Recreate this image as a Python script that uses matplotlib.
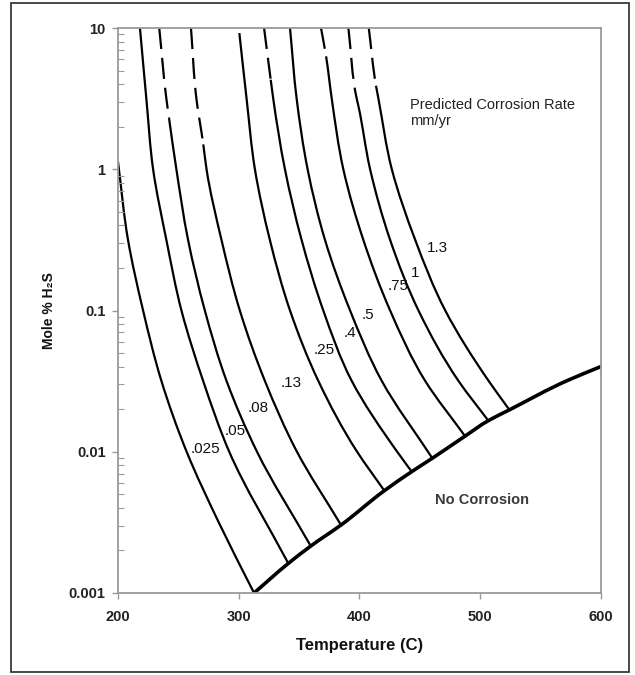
import matplotlib
matplotlib.use("Agg")
import numpy as np
import matplotlib.pyplot as plt
from matplotlib.ticker import LogLocator, NullFormatter, FixedLocator, FixedFormatter
from matplotlib.patches import Rectangle, PathPatch
from matplotlib.path import Path

plt.rcParams['font.family'] = ['Liberation Sans', 'DejaVu Sans']

# ---- data ----
rate_labels = ['.025', '.05', '.08', '.13', '.25', '.4', '.5', '.75', '1', '1.3']

t_025 = [200, 208.3, 220.8, 236.0, 256.7, 284.0, 312.8]
y_025 = [1.13, 0.316, 0.1, 0.0317, 0.0101, 0.0031, 0.001]

t_05 = [218.2, 223.5, 229.1, 240.1, 252.6, 270.6, 292.0, 341.2]
y_05 = [10, 3.16, 1, 0.316, 0.1, 0.0317, 0.0101, 0.00162]

t_08 = [234.2, 240.1, 242.3, 248.4, 258.1, 272.0, 290.0, 315.0, 359.8]
y_08 = [10, 3.16, 2.3, 1, 0.316, 0.1, 0.0317, 0.0101, 0.00215]

t_13 = [260.5, 265.0, 270.7, 273.4, 285.8, 301.0, 321.8, 348.1, 384.9]
y_13 = [10, 3.16, 1.5, 1, 0.316, 0.1, 0.0317, 0.0101, 0.00303]

t_25 = [300.6, 306.6, 313.5, 325.9, 342.6, 366.1, 397.9, 420.8]
y_25 = [9.2, 3.16, 1, 0.316, 0.1, 0.0317, 0.0101, 0.0053]

t_4 = [321.1, 326.6, 328.7, 338.4, 352.2, 370.2, 393.8, 431.1, 443.5]
y_4 = [10, 4.3, 3.16, 1, 0.316, 0.1, 0.0317, 0.0101, 0.00723]

t_5 = [342.6, 348.1, 357.2, 371.6, 392.4, 418.7, 460.6]
y_5 = [10, 3.16, 1, 0.316, 0.1, 0.0317, 0.009]

t_75 = [368.3, 372.5, 377.2, 386.8, 403.4, 425.6, 454.7, 487.7]
y_75 = [10, 6.3, 3.16, 1, 0.316, 0.1, 0.0317, 0.0129]

t_1 = [391.0, 397.9, 399.3, 409.0, 425.6, 449.1, 482.3, 507.0]
y_1 = [10, 3.16, 2.8, 1, 0.316, 0.1, 0.0317, 0.0166]

t_13b = [407.9, 413.9, 415.9, 427.0, 446.4, 471.3, 507.3, 524.5]
y_13b = [10, 3.9, 3.16, 1, 0.316, 0.1, 0.0317, 0.0198]

# number of leading points drawn dashed (0 = fully solid)
dashed_upto = [0, 0, 2, 2, 0, 1, 0, 1, 2, 1]

t_bound = [312.8, 341.2, 359.8, 384.9, 420.8, 443.5, 460.6, 487.7, 507.0, 524.5, 573.5, 600]
y_bound = [0.001, 0.00162, 0.00215, 0.00303, 0.0053, 0.00723, 0.009, 0.0129, 0.0166, 0.0198, 0.0322, 0.040]

label_t = [272.5, 297.0, 316.6, 343.2, 370.8, 392.4, 407.6, 432.1, 446.4, 464.8]
label_y = [0.0104, 0.0141, 0.0203, 0.0308, 0.0525, 0.069, 0.093, 0.148, 0.185, 0.275]

x_ticks = [200, 300, 400, 500, 600]
y_ticks = [0.001, 0.01, 0.1, 1, 10]
y_tick_labels = ['0.001', '0.01', '0.1', '1', '10']

curves_t = [t_025, t_05, t_08, t_13, t_25, t_4, t_5, t_75, t_1, t_13b]
curves_y = [y_025, y_05, y_08, y_13, y_25, y_4, y_5, y_75, y_1, y_13b]


def smooth_path(t, y, i0, i1):
    """Smoothed line (cubic Hermite in x vs log y) through the points, segments i0..i1."""
    T = np.asarray(t, float)
    L = np.log10(np.asarray(y, float))
    n = len(T)
    h = np.diff(L)
    d = np.diff(T) / h
    m = np.empty(n)
    if n == 2:
        m[:] = d[0]
    else:
        for i in range(1, n - 1):
            m[i] = (d[i - 1] * h[i] + d[i] * h[i - 1]) / (h[i - 1] + h[i])
        m[0] = d[0]
        m[-1] = d[-1]
    verts = [(T[i0], 10 ** L[i0])]
    codes = [Path.MOVETO]
    for i in range(i0, i1):
        c1 = (T[i] + m[i] * h[i] / 3, L[i] + h[i] / 3)
        c2 = (T[i + 1] - m[i + 1] * h[i] / 3, L[i + 1] - h[i] / 3)
        verts += [(c1[0], 10 ** c1[1]), (c2[0], 10 ** c2[1]), (T[i + 1], 10 ** L[i + 1])]
        codes += [Path.CURVE4] * 3
    return Path(verts, codes)


# ---- figure ----
fig = plt.figure(figsize=(6.35, 6.75), dpi=100)
fig.patches.append(Rectangle((11 / 635, 1 - 672 / 675), 618 / 635, 669 / 675,
                             transform=fig.transFigure, fill=False,
                             edgecolor='#3a3a3a', linewidth=1.3))

ax = fig.add_axes([118 / 635, 1 - 593 / 675, 482.5 / 635, 565 / 675])
ax.set_yscale('log')
ax.set_xlim(200, 600)
ax.set_ylim(0.001, 10)

lw = 1.6
for t, y, k in zip(curves_t, curves_y, dashed_upto):
    n = len(t)
    if k > 0:
        ax.add_patch(PathPatch(smooth_path(t, y, 0, k), fill=False, edgecolor='black', lw=lw,
                               linestyle=(0, (9.5, 4.0)), capstyle='butt'))
    ax.add_patch(PathPatch(smooth_path(t, y, k, n - 1), fill=False, edgecolor='black', lw=lw,
                           capstyle='butt'))

ax.add_patch(PathPatch(smooth_path(t_bound, y_bound, 0, len(t_bound) - 1), fill=False,
                       edgecolor='black', lw=2.6, capstyle='round'))

for txt, tx, ty in zip(rate_labels, label_t, label_y):
    ax.text(tx, ty, txt, ha='center', va='center', fontsize=11, color='#111111')

ax.text(442, 2.5, 'Predicted Corrosion Rate\nmm/yr', ha='left', va='center',
        fontsize=10.5, color='#222222', linespacing=1.1)
ax.text(502, 0.00458, 'No Corrosion', ha='center', va='center',
        fontsize=10.5, color='#3a3a3a', fontweight='bold')

for s in ax.spines.values():
    s.set_color('#9a9a9a')
    s.set_linewidth(1.3)

ax.xaxis.set_major_locator(FixedLocator(x_ticks))
ax.set_xticklabels([str(v) for v in x_ticks])
ax.yaxis.set_major_locator(FixedLocator(y_ticks))
ax.yaxis.set_major_formatter(FixedFormatter(y_tick_labels))
ax.yaxis.set_minor_locator(LogLocator(base=10, subs=range(2, 10)))
ax.yaxis.set_minor_formatter(NullFormatter())

ax.tick_params(axis='x', which='major', direction='out', length=4, width=1, color='#9a9a9a',
               labelsize=10.5, pad=8)
ax.tick_params(axis='y', which='major', direction='out', length=4, width=1, color='#9a9a9a',
               labelsize=10.5, pad=5)
ax.tick_params(axis='y', which='minor', direction='in', length=4, width=0.8, color='#9a9a9a')
for lab in ax.get_xticklabels() + ax.get_yticklabels():
    lab.set_fontweight('bold')
    lab.set_color('#222222')

ax.set_xlabel('Temperature (C)', fontsize=12, fontweight='bold', labelpad=10, color='#111111')
ax.set_ylabel('Mole % H\u2082S', fontsize=10, fontweight='bold', labelpad=9, color='#111111')

fig.savefig('out.png', dpi=100)
